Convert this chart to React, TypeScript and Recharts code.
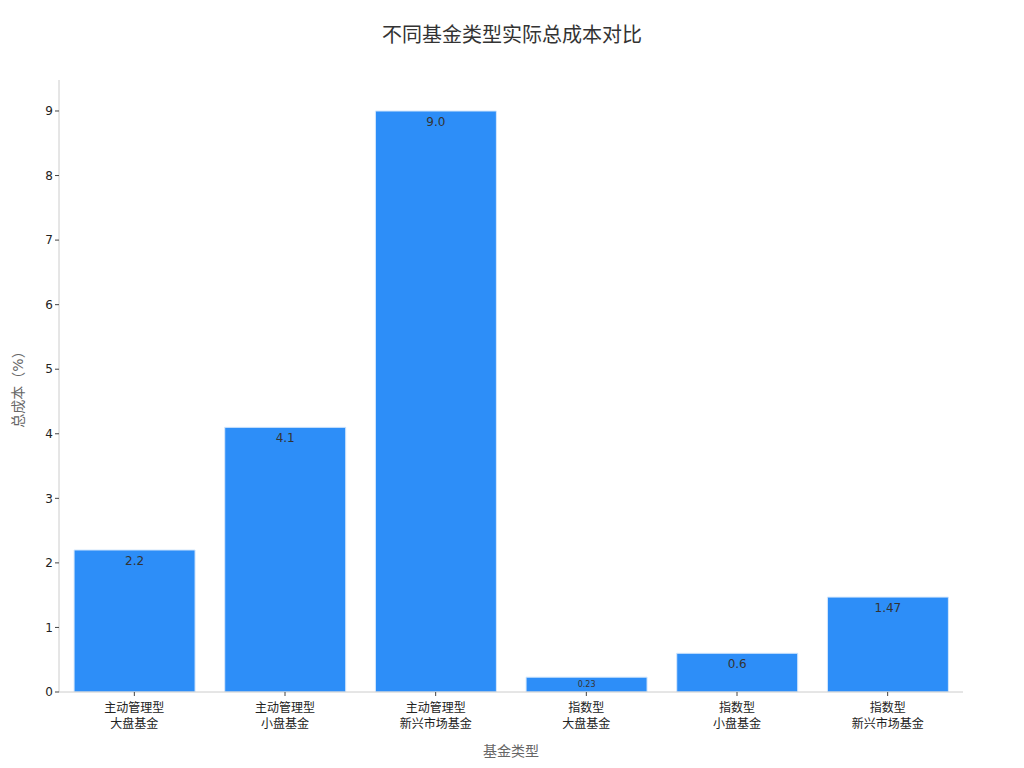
import React from 'react';
import { BarChart, Bar, XAxis, YAxis, LabelList } from 'recharts';

const categories = ['主动管理型\n大盘基金', '主动管理型\n小盘基金', '主动管理型\n新兴市场基金', '指数型\n大盘基金', '指数型\n小盘基金', '指数型\n新兴市场基金'];
const totalCost = [2.2, 4.1, 9.0, 0.23, 0.6, 1.47];
const costLabels = ['2.2', '4.1', '9.0', '0.23', '0.6', '1.47'];
const yTicks = [0, 1, 2, 3, 4, 5, 6, 7, 8, 9];

const data = categories.map((name, i) => ({ name, value: totalCost[i], label: costLabels[i] }));

const FONT = '"DejaVu Sans", "Noto Sans CJK SC", sans-serif';

const CategoryTick = (props: any) => {
  const { x, y, payload } = props;
  const lines = String(payload.value).split('\n');
  return (
    <g transform={`translate(${x},${y})`}>
      {lines.map((line, i) => (
        <text key={i} x={0} y={0} dy={14 + i * 16} textAnchor="middle" fill="#222" fontSize={12} fontFamily={FONT}>
          {line}
        </text>
      ))}
    </g>
  );
};

const ValueLabel = (props: any) => {
  const { x, y, width, index } = props;
  const small = totalCost[index] < 0.5;
  return (
    <text x={x + width / 2} y={y + (small ? 10 : 15)} textAnchor="middle" fill="#333" fontSize={small ? 8 : 12} fontFamily={FONT}>
      {costLabels[index]}
    </text>
  );
};

const App: React.FC = () => {
  return (
    <div style={{ position: 'absolute', left: 0, top: 0, width: 1024, height: 768, background: '#fff', fontFamily: FONT }}>
      <div style={{ position: 'absolute', top: 19, left: 0, width: 1024, textAlign: 'center', fontSize: 20, color: '#333' }}>
        不同基金类型实际总成本对比
      </div>
      <BarChart
        width={1024}
        height={768}
        data={data}
        margin={{ top: 80, right: 61, left: 0, bottom: 0 }}
        barCategoryGap="10%"
      >
        <XAxis
          dataKey="name"
          height={76}
          tick={<CategoryTick />}
          tickLine={{ stroke: '#444' }}
          tickSize={4}
          axisLine={{ stroke: '#ccc' }}
          interval={0}
          label={{ value: '基金类型', position: 'insideBottom', offset: 12, fill: '#666', fontSize: 14, fontFamily: FONT }}
        />
        <YAxis
          width={59}
          domain={[0, 9.48]}
          ticks={yTicks}
          allowDataOverflow
          tick={{ fill: '#222', fontSize: 12, fontFamily: FONT }}
          tickLine={{ stroke: '#444' }}
          tickSize={4}
          axisLine={{ stroke: '#ccc' }}
          label={{ value: '总成本（%）', angle: -90, position: 'insideLeft', offset: 18, fill: '#666', fontSize: 14, fontFamily: FONT, style: { textAnchor: 'middle' } }}
        />
        <Bar dataKey="value" fill="#2d8ef8" stroke="#d6e8fc" strokeWidth={1} isAnimationActive={false}>
          <LabelList dataKey="label" content={<ValueLabel />} />
        </Bar>
      </BarChart>
    </div>
  );
};

export default App;
